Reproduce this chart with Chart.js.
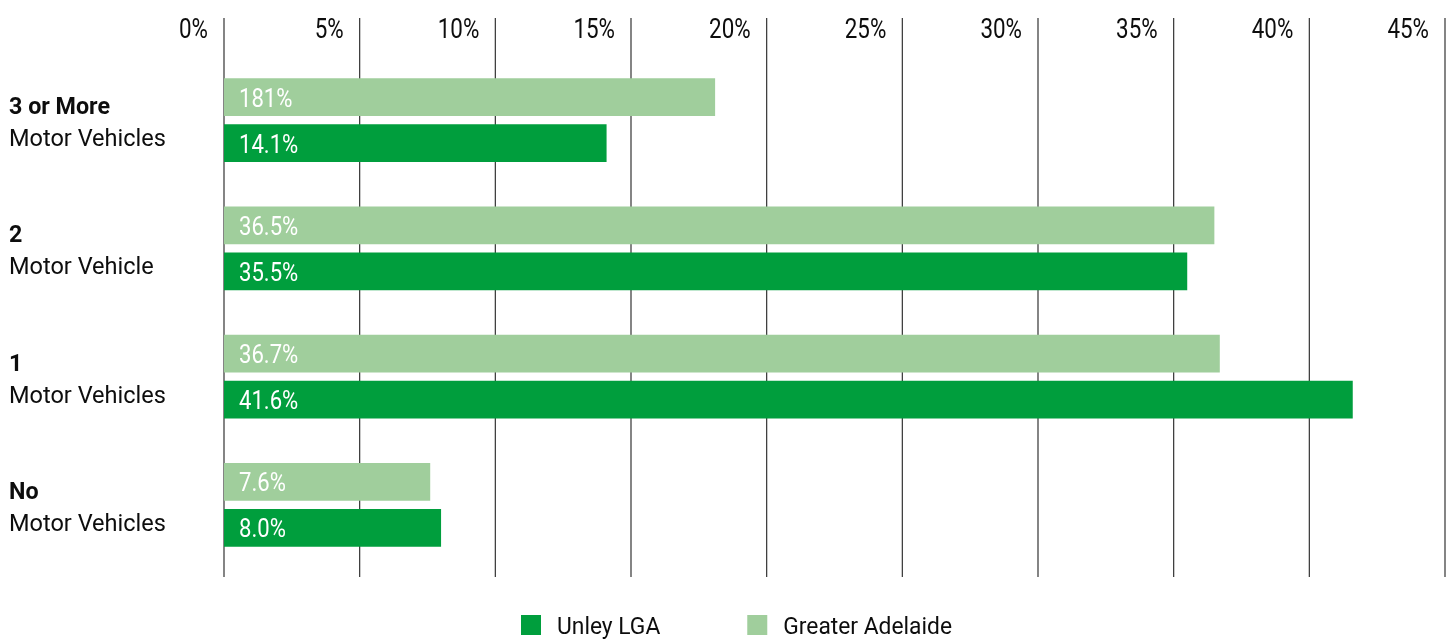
<!DOCTYPE html>
<html>
<head>
<meta charset="utf-8">
<title>Motor vehicles per dwelling</title>
<script src="https://cdn.jsdelivr.net/npm/chart.js@4.4.1/dist/chart.umd.min.js"></script>
<style>
  html, body { margin: 0; padding: 0; background: #fff; }
  #wrap { width: 1453px; height: 639px; position: relative; }
</style>
</head>
<body>
<div id="wrap"><canvas id="vehiclesChart"></canvas></div>
<script>
const categories = ['3 or More', '2', '1', 'No'];
const categorySub = ['Motor Vehicles', 'Motor Vehicle', 'Motor Vehicles', 'Motor Vehicles'];
const unleyValues = [14.1, 35.5, 41.6, 8.0];
const adelaideValues = [18.1, 36.5, 36.7, 7.6];
// labels as printed on the bars (the 18.1 one is printed "181%")
const unleyLabels = ['14.1%', '35.5%', '41.6%', '8.0%'];
const adelaideLabels = ['181%', '36.5%', '36.7%', '7.6%'];
const tickValues = [0, 5, 10, 15, 20, 25, 30, 35, 40, 45];

const textFont = 'Roboto, "Liberation Sans", sans-serif';

// the original uses a condensed face, so squeeze Roboto sideways
function condensedText(ctx, text, x, y, align, squeeze) {
    ctx.save();
    ctx.translate(x, y);
    ctx.scale(squeeze, 1);
    ctx.textAlign = align;
    ctx.fillText(text, 0, 0);
    ctx.restore();
}

const extras = {
    id: 'extras',
    beforeDatasetsDraw(chart) {
        const {ctx, chartArea, scales} = chart;
        const x = scales.x, y = scales.y;
        ctx.save();
        // vertical grid lines, running a bit past the plot area
        ctx.strokeStyle = '#333';
        ctx.lineWidth = 1.2;
        tickValues.forEach(v => {
            const px = x.getPixelForValue(v);
            ctx.beginPath();
            ctx.moveTo(px, chartArea.top - 38);
            ctx.lineTo(px, chartArea.bottom + 8);
            ctx.stroke();
        });
        // tick labels sit to the left of their line
        ctx.fillStyle = '#0d0d0d';
        ctx.font = '28px ' + textFont;
        ctx.textBaseline = 'alphabetic';
        tickValues.forEach(v => {
            condensedText(ctx, v + '%', x.getPixelForValue(v) - 16, chartArea.top - 18, 'right', 0.8);
        });
        // category labels, bold first line
        categories.forEach((c, i) => {
            const cy = y.getPixelForValue(i);
            ctx.font = 'bold 24px ' + textFont;
            condensedText(ctx, c, 9, cy - 6, 'left', 0.97);
            ctx.font = '24px ' + textFont;
            condensedText(ctx, categorySub[i], 9, cy + 26, 'left', 0.98);
        });
        ctx.restore();
    },
    afterDatasetsDraw(chart) {
        const {ctx} = chart;
        ctx.save();
        ctx.fillStyle = '#fff';
        ctx.font = '26px ' + textFont;
        ctx.textBaseline = 'alphabetic';
        chart.data.datasets.forEach((ds, di) => {
            chart.getDatasetMeta(di).data.forEach((bar, i) => {
                condensedText(ctx, ds.valueLabels[i], bar.base + 15, bar.y + 9.5, 'left', 0.85);
            });
        });
        ctx.restore();
    },
    afterDraw(chart) {
        // legend: Unley first, then Greater Adelaide
        const {ctx, width} = chart;
        const items = chart.data.datasets.slice().reverse();
        const box = 20, textGap = 16, itemGap = 87, squeeze = 0.95;
        ctx.save();
        ctx.font = '24px ' + textFont;
        let total = 0;
        items.forEach((ds, i) => {
            total += box + textGap + ctx.measureText(ds.label).width * squeeze + (i < items.length - 1 ? itemGap : 0);
        });
        let px = (width - total) / 2 + 10;
        ctx.textBaseline = 'alphabetic';
        items.forEach(ds => {
            ctx.fillStyle = ds.backgroundColor;
            ctx.fillRect(px, 615, box, box);
            px += box + textGap;
            ctx.fillStyle = '#0d0d0d';
            condensedText(ctx, ds.label, px, 634, 'left', squeeze);
            px += ctx.measureText(ds.label).width * squeeze + itemGap;
        });
        ctx.restore();
    }
};

new Chart(document.getElementById('vehiclesChart'), {
    type: 'bar',
    data: {
        labels: categories,
        datasets: [{
            label: 'Greater Adelaide',
            data: adelaideValues,
            valueLabels: adelaideLabels,
            backgroundColor: '#a0ce9c',
            borderWidth: 0
        }, {
            label: 'Unley LGA',
            data: unleyValues,
            valueLabels: unleyLabels,
            backgroundColor: '#009e3d',
            borderWidth: 0
        }]
    },
    options: {
        indexAxis: 'y',
        responsive: true,
        maintainAspectRatio: false,
        animation: false,
        categoryPercentage: 0.717,
        barPercentage: 0.826,
        layout: {
            padding: { left: 224, right: 8, top: 56, bottom: 70 }
        },
        scales: {
            x: { display: false, min: 0, max: 45 },
            y: { display: false, offset: true }
        },
        plugins: {
            legend: { display: false },
            tooltip: { enabled: false }
        }
    },
    plugins: [extras]
});
</script>
</body>
</html>
